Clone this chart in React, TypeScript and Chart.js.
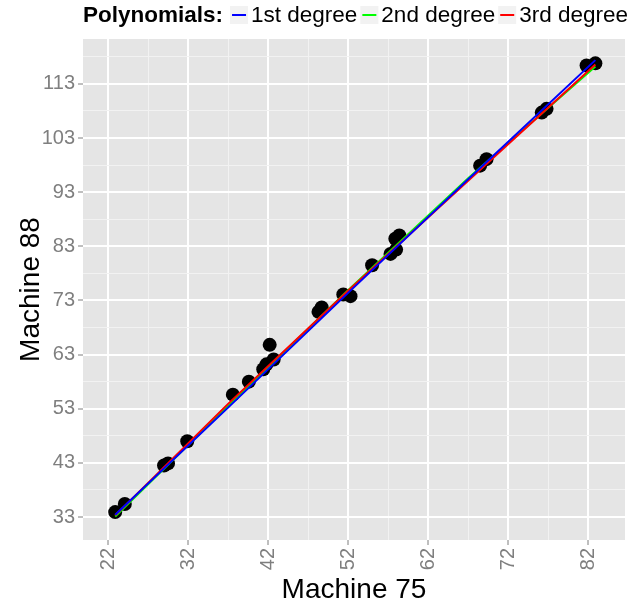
import React, { useEffect, useRef } from "react";
import { Chart, registerables } from "chart.js";

Chart.register(...registerables);

// Scatter data: Machine 75 (x) vs Machine 88 (y)
const machine75 = [22.9, 24.1, 29.0, 29.5, 31.9, 37.6, 39.6, 41.4, 41.8, 42.7, 42.2, 48.3, 48.7, 51.4, 52.3, 55.0, 57.3, 58.0, 57.9, 58.4, 68.5, 69.3, 76.2, 76.8, 81.8, 82.9];
const machine88 = [33.9, 35.4, 42.5, 42.9, 47.0, 55.6, 58.0, 60.3, 61.2, 62.1, 64.8, 70.9, 71.7, 74.1, 73.8, 79.5, 81.6, 82.4, 84.4, 85.0, 97.9, 99.1, 107.7, 108.4, 116.4, 116.8];

// Fitted polynomial lines
const fitX = [22.9, 37, 52, 67, 82.9];
const fit1st = [33.4, 53.2, 74.4, 95.4, 117.4];
const fit2nd = [33.1, 53.5, 74.9, 95.6, 116.2];
const fit3rd = [33.3, 53.9, 74.8, 95.1, 116.6];

// Axis ticks
const xMajor = [22, 32, 42, 52, 62, 72, 82];
const xMinor = [27, 37, 47, 57, 67, 77];
const yMajor = [33, 43, 53, 63, 73, 83, 93, 103, 113];
const yMinor = [38, 48, 58, 68, 78, 88, 98, 108, 118];

const legendTitle = "Polynomials:";
const legendLabels = ["1st degree", "2nd degree", "3rd degree"];
const legendColors = ["#0000FF", "#00FF00", "#FF0000"];

const FONT = "'Liberation Sans', Arial, Helvetica, sans-serif";

export default function App() {
  const ref = useRef<HTMLCanvasElement>(null);

  useEffect(() => {
    const canvas = ref.current!;
    const pts = machine75.map((x, i) => ({ x, y: machine88[i] }));
    const mk = (ys: number[]) => fitX.map((x, i) => ({ x, y: ys[i] }));

    const bgPlugin = {
      id: "bg",
      beforeDraw(chart: any) {
        const { ctx, chartArea: a } = chart;
        ctx.save();
        ctx.fillStyle = "#FFFFFF";
        ctx.fillRect(0, 0, chart.width, chart.height);
        ctx.fillStyle = "#E5E5E5";
        ctx.fillRect(a.left, a.top, a.right - a.left, a.bottom - a.top);
        ctx.restore();
      },
      afterDraw(chart: any) {
        const { ctx, chartArea: a } = chart;
        ctx.save();
        // axis titles
        ctx.fillStyle = "#000000";
        ctx.font = `28px ${FONT}`;
        ctx.textAlign = "center";
        ctx.textBaseline = "alphabetic";
        ctx.fillText("Machine 75", (a.left + a.right) / 2, 598);
        ctx.save();
        ctx.translate(39, (a.top + a.bottom) / 2);
        ctx.rotate(-Math.PI / 2);
        ctx.fillText("Machine 88", 0, 0);
        ctx.restore();
        // legend
        let x = 83;
        const cy = 15;
        ctx.textAlign = "left";
        ctx.textBaseline = "middle";
        ctx.font = `bold 22.5px ${FONT}`;
        ctx.fillText(legendTitle, x, cy + 1);
        x += ctx.measureText(legendTitle).width + 7;
        ctx.font = `22.5px ${FONT}`;
        legendLabels.forEach((lab, i) => {
          ctx.fillStyle = "#F2F2F2";
          ctx.fillRect(x, cy - 9, 18, 18);
          ctx.strokeStyle = legendColors[i];
          ctx.lineWidth = 2;
          ctx.beginPath();
          ctx.moveTo(x + 2, cy);
          ctx.lineTo(x + 16, cy);
          ctx.stroke();
          x += 21;
          ctx.fillStyle = "#000000";
          ctx.fillText(lab, x, cy + 1);
          x += ctx.measureText(lab).width + 3;
        });
        ctx.restore();
      },
    };

    const isMajor = (arr: number[], v: number) => arr.some((m) => Math.abs(m - v) < 1e-6);

    const chart = new Chart(canvas, {
      type: "scatter",
      data: {
        datasets: [
          { data: mk(fit1st), showLine: true, borderColor: legendColors[0], borderWidth: 2, pointRadius: 0, fill: false },
          { data: mk(fit3rd), showLine: true, borderColor: legendColors[2], borderWidth: 2, pointRadius: 0, fill: false },
          { data: mk(fit2nd), showLine: true, borderColor: legendColors[1], borderWidth: 2, pointRadius: 0, fill: false },
          { data: pts, pointRadius: 7, pointBackgroundColor: "#000000", pointBorderWidth: 0, borderWidth: 0 },
        ],
      },
      options: {
        responsive: false,
        animation: false,
        devicePixelRatio: 1,
        layout: { padding: { top: 39, right: 16, left: 0, bottom: 0 } },
        plugins: { legend: { display: false }, tooltip: { enabled: false }, title: { display: false } },
        scales: {
          x: {
            type: "linear",
            min: 18.875,
            max: 86.6,
            afterBuildTicks: (s: any) => {
              s.ticks = [...xMajor, ...xMinor].sort((a, b) => a - b).map((v) => ({ value: v }));
            },
            afterFit: (s: any) => {
              s.height = 65;
            },
            border: { display: false },
            grid: {
              color: (c: any) => (isMajor(xMajor, c.tick.value) ? "#FFFFFF" : "#F2F2F2"),
              lineWidth: (c: any) => (isMajor(xMajor, c.tick.value) ? 2 : 1),
              tickColor: (c: any) => (isMajor(xMajor, c.tick.value) ? "#7F7F7F" : "rgba(0,0,0,0)"),
              tickLength: 5,
              tickWidth: 1,
            },
            ticks: {
              autoSkip: false,
              minRotation: 90,
              maxRotation: 90,
              padding: 3,
              color: "#7F7F7F",
              font: { family: FONT, size: 20 },
              callback: (v: any) => (isMajor(xMajor, Number(v)) ? String(v) : ""),
            },
          },
          y: {
            type: "linear",
            min: 28.75,
            max: 121.3,
            afterBuildTicks: (s: any) => {
              s.ticks = [...yMajor, ...yMinor].sort((a, b) => a - b).map((v) => ({ value: v }));
            },
            afterFit: (s: any) => {
              s.width = 83;
            },
            border: { display: false },
            grid: {
              color: (c: any) => (isMajor(yMajor, c.tick.value) ? "#FFFFFF" : "#F2F2F2"),
              lineWidth: (c: any) => (isMajor(yMajor, c.tick.value) ? 2 : 1),
              tickColor: (c: any) => (isMajor(yMajor, c.tick.value) ? "#7F7F7F" : "rgba(0,0,0,0)"),
              tickLength: 5,
              tickWidth: 1,
            },
            ticks: {
              autoSkip: false,
              padding: 3,
              color: "#7F7F7F",
              font: { family: FONT, size: 20 },
              callback: (v: any) => (isMajor(yMajor, Number(v)) ? String(v) : ""),
            },
          },
        },
      },
      plugins: [bgPlugin],
    } as any);
    return () => chart.destroy();
  }, []);

  return (
    <div style={{ position: "fixed", left: 0, top: 0, width: 641, height: 605, background: "#FFFFFF" }}>
      <canvas ref={ref} width={641} height={605} style={{ width: 641, height: 605, display: "block" }} />
    </div>
  );
}
